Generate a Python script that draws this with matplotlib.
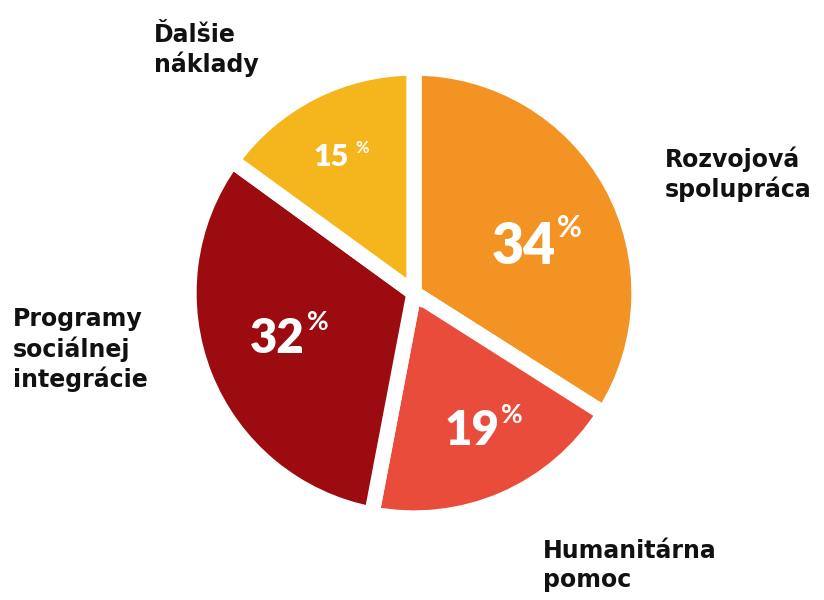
import matplotlib
matplotlib.use("Agg")
import matplotlib.pyplot as plt

categories = ["Rozvojová\nspolupráca", "Humanitárna\npomoc", "Programy\nsociálnej\nintegrácie", "Ďalšie\nnáklady"]
values = [34, 19, 32, 15]
colors = ["#F39324", "#EA4C3C", "#9C0B10", "#F4B61C"]

W, H = 824, 600
fig = plt.figure(figsize=(W / 100, H / 100), dpi=100)
ax = fig.add_axes([0, 0, 1, 1])

def py(y):
    return H - y

ax.pie(values, colors=colors, startangle=90, counterclock=False,
       center=(414, py(293)), radius=225,
       wedgeprops=dict(edgecolor="white", linewidth=11))
ax.set_xlim(0, W)
ax.set_ylim(0, H)
ax.set_aspect("equal")
ax.axis("off")

font = ["Lato", "DejaVu Sans"]
label_font = ["DejaVu Sans"]

# percentage labels (number centre, % sign position, sizes)
pct_pos = [(524, 247), (472, 431), (277, 339), (331, 157)]
pct_size = [40, 34, 34, 22]
pct_sign_pos = [(569, 228), (512, 415), (318, 322), (362, 148)]
pct_sign_size = [22, 19, 19, 12]
for v, (x, y), s, (sx, sy), ss in zip(values, pct_pos, pct_size, pct_sign_pos, pct_sign_size):
    ax.text(x, py(y), f"{v}", ha="center", va="center", color="white",
            fontsize=s, fontweight="heavy", family=font)
    ax.text(sx, py(sy), "%", ha="center", va="center", color="white",
            fontsize=ss, fontweight="bold", family=font)

# category labels (last-line baseline positions)
label_pos = [(665, 197), (543, 587), (13, 387), (154, 72)]
for lab, (x, y) in zip(categories, label_pos):
    ax.text(x, py(y), lab, ha="left", va="baseline", color="#111111",
            fontsize=17, fontweight="bold", family=label_font, linespacing=1.24)

fig.savefig("out.png", dpi=100)
